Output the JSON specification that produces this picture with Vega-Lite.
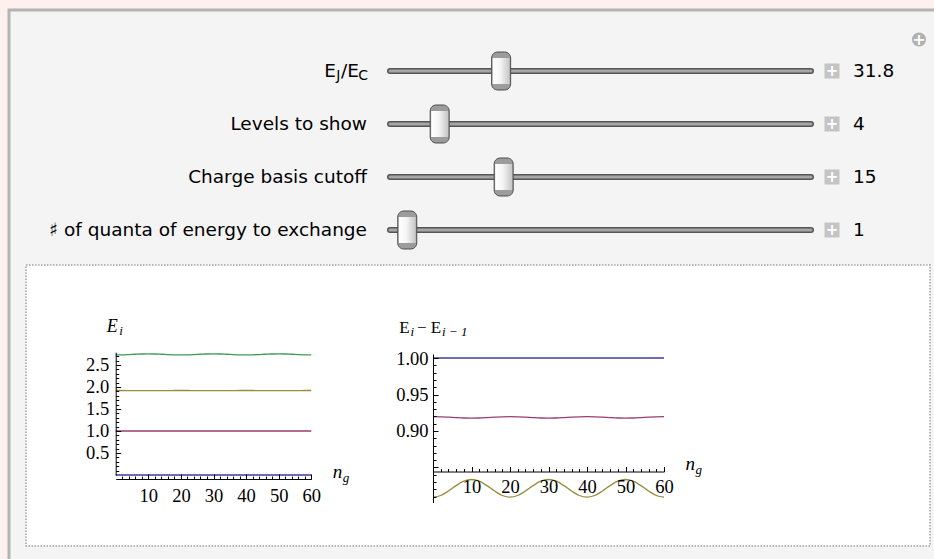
{
  "$schema": "https://vega.github.io/schema/vega-lite/v6.json",
  "background": "#fff0f0",
  "padding": {"left": 9, "top": 10, "right": -4, "bottom": -4},
  "autosize": {"type": "none"},
  "width": 929,
  "height": 553,
  "view": {"fill": "#f4f4f4", "stroke": "#b4b4b4", "strokeWidth": 3},
  "config": {"text": {"font": "DejaVu Sans", "color": "#000000"}},
  "datasets": {
    "sliders": [
      {"label": "E_J/E_C", "value": "31.8", "fraction": 0.264},
      {"label": "Levels to show", "value": "4", "fraction": 0.118},
      {"label": "Charge basis cutoff", "value": "15", "fraction": 0.27},
      {"label": "♯ of quanta of energy to exchange", "value": "1", "fraction": 0.041}
    ],
    "levels": [
      {"ng":0,"level":"E0","energy":0},{"ng":2,"level":"E0","energy":0},{"ng":4,"level":"E0","energy":0},{"ng":6,"level":"E0","energy":0},{"ng":8,"level":"E0","energy":0},{"ng":10,"level":"E0","energy":0},{"ng":12,"level":"E0","energy":0},{"ng":14,"level":"E0","energy":0},{"ng":16,"level":"E0","energy":0},{"ng":18,"level":"E0","energy":0},{"ng":20,"level":"E0","energy":0},{"ng":22,"level":"E0","energy":0},{"ng":24,"level":"E0","energy":0},{"ng":26,"level":"E0","energy":0},{"ng":28,"level":"E0","energy":0},{"ng":30,"level":"E0","energy":0},{"ng":32,"level":"E0","energy":0},{"ng":34,"level":"E0","energy":0},{"ng":36,"level":"E0","energy":0},{"ng":38,"level":"E0","energy":0},{"ng":40,"level":"E0","energy":0},{"ng":42,"level":"E0","energy":0},{"ng":44,"level":"E0","energy":0},{"ng":46,"level":"E0","energy":0},{"ng":48,"level":"E0","energy":0},{"ng":50,"level":"E0","energy":0},{"ng":52,"level":"E0","energy":0},{"ng":54,"level":"E0","energy":0},{"ng":56,"level":"E0","energy":0},{"ng":58,"level":"E0","energy":0},{"ng":60,"level":"E0","energy":0},
      {"ng":0,"level":"E1","energy":1},{"ng":2,"level":"E1","energy":1},{"ng":4,"level":"E1","energy":1},{"ng":6,"level":"E1","energy":1},{"ng":8,"level":"E1","energy":1},{"ng":10,"level":"E1","energy":1},{"ng":12,"level":"E1","energy":1},{"ng":14,"level":"E1","energy":1},{"ng":16,"level":"E1","energy":1},{"ng":18,"level":"E1","energy":1},{"ng":20,"level":"E1","energy":1},{"ng":22,"level":"E1","energy":1},{"ng":24,"level":"E1","energy":1},{"ng":26,"level":"E1","energy":1},{"ng":28,"level":"E1","energy":1},{"ng":30,"level":"E1","energy":1},{"ng":32,"level":"E1","energy":1},{"ng":34,"level":"E1","energy":1},{"ng":36,"level":"E1","energy":1},{"ng":38,"level":"E1","energy":1},{"ng":40,"level":"E1","energy":1},{"ng":42,"level":"E1","energy":1},{"ng":44,"level":"E1","energy":1},{"ng":46,"level":"E1","energy":1},{"ng":48,"level":"E1","energy":1},{"ng":50,"level":"E1","energy":1},{"ng":52,"level":"E1","energy":1},{"ng":54,"level":"E1","energy":1},{"ng":56,"level":"E1","energy":1},{"ng":58,"level":"E1","energy":1},{"ng":60,"level":"E1","energy":1},
      {"ng":0,"level":"E2","energy":1.9196},{"ng":2,"level":"E2","energy":1.9194},{"ng":4,"level":"E2","energy":1.9189},{"ng":6,"level":"E2","energy":1.9183},{"ng":8,"level":"E2","energy":1.9178},{"ng":10,"level":"E2","energy":1.9176},{"ng":12,"level":"E2","energy":1.9178},{"ng":14,"level":"E2","energy":1.9183},{"ng":16,"level":"E2","energy":1.9189},{"ng":18,"level":"E2","energy":1.9194},{"ng":20,"level":"E2","energy":1.9196},{"ng":22,"level":"E2","energy":1.9194},{"ng":24,"level":"E2","energy":1.9189},{"ng":26,"level":"E2","energy":1.9183},{"ng":28,"level":"E2","energy":1.9178},{"ng":30,"level":"E2","energy":1.9176},{"ng":32,"level":"E2","energy":1.9178},{"ng":34,"level":"E2","energy":1.9183},{"ng":36,"level":"E2","energy":1.9189},{"ng":38,"level":"E2","energy":1.9194},{"ng":40,"level":"E2","energy":1.9196},{"ng":42,"level":"E2","energy":1.9194},{"ng":44,"level":"E2","energy":1.9189},{"ng":46,"level":"E2","energy":1.9183},{"ng":48,"level":"E2","energy":1.9178},{"ng":50,"level":"E2","energy":1.9176},{"ng":52,"level":"E2","energy":1.9178},{"ng":54,"level":"E2","energy":1.9183},{"ng":56,"level":"E2","energy":1.9189},{"ng":58,"level":"E2","energy":1.9194},{"ng":60,"level":"E2","energy":1.9196},
      {"ng":0,"level":"E3","energy":2.7289},{"ng":2,"level":"E3","energy":2.7310},{"ng":4,"level":"E3","energy":2.7366},{"ng":6,"level":"E3","energy":2.7434},{"ng":8,"level":"E3","energy":2.7490},{"ng":10,"level":"E3","energy":2.7511},{"ng":12,"level":"E3","energy":2.7490},{"ng":14,"level":"E3","energy":2.7434},{"ng":16,"level":"E3","energy":2.7366},{"ng":18,"level":"E3","energy":2.7310},{"ng":20,"level":"E3","energy":2.7289},{"ng":22,"level":"E3","energy":2.7310},{"ng":24,"level":"E3","energy":2.7366},{"ng":26,"level":"E3","energy":2.7434},{"ng":28,"level":"E3","energy":2.7490},{"ng":30,"level":"E3","energy":2.7511},{"ng":32,"level":"E3","energy":2.7490},{"ng":34,"level":"E3","energy":2.7434},{"ng":36,"level":"E3","energy":2.7366},{"ng":38,"level":"E3","energy":2.7310},{"ng":40,"level":"E3","energy":2.7289},{"ng":42,"level":"E3","energy":2.7310},{"ng":44,"level":"E3","energy":2.7366},{"ng":46,"level":"E3","energy":2.7434},{"ng":48,"level":"E3","energy":2.7490},{"ng":50,"level":"E3","energy":2.7511},{"ng":52,"level":"E3","energy":2.7490},{"ng":54,"level":"E3","energy":2.7434},{"ng":56,"level":"E3","energy":2.7366},{"ng":58,"level":"E3","energy":2.7310},{"ng":60,"level":"E3","energy":2.7289}
    ],
    "diffs": [
      {"ng":0,"pair":"E1-E0","gap":1},{"ng":2,"pair":"E1-E0","gap":1},{"ng":4,"pair":"E1-E0","gap":1},{"ng":6,"pair":"E1-E0","gap":1},{"ng":8,"pair":"E1-E0","gap":1},{"ng":10,"pair":"E1-E0","gap":1},{"ng":12,"pair":"E1-E0","gap":1},{"ng":14,"pair":"E1-E0","gap":1},{"ng":16,"pair":"E1-E0","gap":1},{"ng":18,"pair":"E1-E0","gap":1},{"ng":20,"pair":"E1-E0","gap":1},{"ng":22,"pair":"E1-E0","gap":1},{"ng":24,"pair":"E1-E0","gap":1},{"ng":26,"pair":"E1-E0","gap":1},{"ng":28,"pair":"E1-E0","gap":1},{"ng":30,"pair":"E1-E0","gap":1},{"ng":32,"pair":"E1-E0","gap":1},{"ng":34,"pair":"E1-E0","gap":1},{"ng":36,"pair":"E1-E0","gap":1},{"ng":38,"pair":"E1-E0","gap":1},{"ng":40,"pair":"E1-E0","gap":1},{"ng":42,"pair":"E1-E0","gap":1},{"ng":44,"pair":"E1-E0","gap":1},{"ng":46,"pair":"E1-E0","gap":1},{"ng":48,"pair":"E1-E0","gap":1},{"ng":50,"pair":"E1-E0","gap":1},{"ng":52,"pair":"E1-E0","gap":1},{"ng":54,"pair":"E1-E0","gap":1},{"ng":56,"pair":"E1-E0","gap":1},{"ng":58,"pair":"E1-E0","gap":1},{"ng":60,"pair":"E1-E0","gap":1},
      {"ng":0,"pair":"E2-E1","gap":0.9196},{"ng":2,"pair":"E2-E1","gap":0.9194},{"ng":4,"pair":"E2-E1","gap":0.9189},{"ng":6,"pair":"E2-E1","gap":0.9183},{"ng":8,"pair":"E2-E1","gap":0.9178},{"ng":10,"pair":"E2-E1","gap":0.9176},{"ng":12,"pair":"E2-E1","gap":0.9178},{"ng":14,"pair":"E2-E1","gap":0.9183},{"ng":16,"pair":"E2-E1","gap":0.9189},{"ng":18,"pair":"E2-E1","gap":0.9194},{"ng":20,"pair":"E2-E1","gap":0.9196},{"ng":22,"pair":"E2-E1","gap":0.9194},{"ng":24,"pair":"E2-E1","gap":0.9189},{"ng":26,"pair":"E2-E1","gap":0.9183},{"ng":28,"pair":"E2-E1","gap":0.9178},{"ng":30,"pair":"E2-E1","gap":0.9176},{"ng":32,"pair":"E2-E1","gap":0.9178},{"ng":34,"pair":"E2-E1","gap":0.9183},{"ng":36,"pair":"E2-E1","gap":0.9189},{"ng":38,"pair":"E2-E1","gap":0.9194},{"ng":40,"pair":"E2-E1","gap":0.9196},{"ng":42,"pair":"E2-E1","gap":0.9194},{"ng":44,"pair":"E2-E1","gap":0.9189},{"ng":46,"pair":"E2-E1","gap":0.9183},{"ng":48,"pair":"E2-E1","gap":0.9178},{"ng":50,"pair":"E2-E1","gap":0.9176},{"ng":52,"pair":"E2-E1","gap":0.9178},{"ng":54,"pair":"E2-E1","gap":0.9183},{"ng":56,"pair":"E2-E1","gap":0.9189},{"ng":58,"pair":"E2-E1","gap":0.9194},{"ng":60,"pair":"E2-E1","gap":0.9196},
      {"ng":0,"pair":"E3-E2","gap":0.8093},{"ng":2,"pair":"E3-E2","gap":0.8116},{"ng":4,"pair":"E3-E2","gap":0.8177},{"ng":6,"pair":"E3-E2","gap":0.8251},{"ng":8,"pair":"E3-E2","gap":0.8312},{"ng":10,"pair":"E3-E2","gap":0.8335},{"ng":12,"pair":"E3-E2","gap":0.8312},{"ng":14,"pair":"E3-E2","gap":0.8251},{"ng":16,"pair":"E3-E2","gap":0.8177},{"ng":18,"pair":"E3-E2","gap":0.8116},{"ng":20,"pair":"E3-E2","gap":0.8093},{"ng":22,"pair":"E3-E2","gap":0.8116},{"ng":24,"pair":"E3-E2","gap":0.8177},{"ng":26,"pair":"E3-E2","gap":0.8251},{"ng":28,"pair":"E3-E2","gap":0.8312},{"ng":30,"pair":"E3-E2","gap":0.8335},{"ng":32,"pair":"E3-E2","gap":0.8312},{"ng":34,"pair":"E3-E2","gap":0.8251},{"ng":36,"pair":"E3-E2","gap":0.8177},{"ng":38,"pair":"E3-E2","gap":0.8116},{"ng":40,"pair":"E3-E2","gap":0.8093},{"ng":42,"pair":"E3-E2","gap":0.8116},{"ng":44,"pair":"E3-E2","gap":0.8177},{"ng":46,"pair":"E3-E2","gap":0.8251},{"ng":48,"pair":"E3-E2","gap":0.8312},{"ng":50,"pair":"E3-E2","gap":0.8335},{"ng":52,"pair":"E3-E2","gap":0.8312},{"ng":54,"pair":"E3-E2","gap":0.8251},{"ng":56,"pair":"E3-E2","gap":0.8177},{"ng":58,"pair":"E3-E2","gap":0.8116},{"ng":60,"pair":"E3-E2","gap":0.8093}
    ]
  },
  "resolve": {
    "scale": {"x": "independent", "y": "independent", "color": "independent"},
    "axis": {"x": "independent", "y": "independent"}
  },
  "layer": [
    {
      "data": {"values": [{"panel": "output"}]},
      "mark": {"type": "rect", "fill": "#ffffff", "stroke": "#a0a0a0", "strokeWidth": 1.5, "strokeDash": [1.5, 1.5]},
      "encoding": {
        "x": {"datum": 0, "type": "quantitative", "scale": {"domain": [0, 1], "range": [17, 921], "zero": false, "nice": false}, "axis": null},
        "x2": {"datum": 1},
        "y": {"datum": 0, "type": "quantitative", "scale": {"domain": [0, 1], "range": [255, 536], "zero": false, "nice": false}, "axis": null},
        "y2": {"datum": 1}
      }
    },
    {
      "data": {"name": "sliders"},
      "encoding": {
        "y": {"field": "label", "type": "nominal", "scale": {"type": "point", "domain": ["E_J/E_C", "Levels to show", "Charge basis cutoff", "♯ of quanta of energy to exchange"], "range": [61, 220], "padding": 0}, "axis": null}
      },
      "layer": [
        {
          "mark": {"type": "rule", "color": "#555555", "strokeWidth": 6, "strokeCap": "round"},
          "encoding": {"x": {"datum": 0, "type": "quantitative", "scale": {"domain": [0, 1], "range": [381, 802], "zero": false, "nice": false}, "axis": null}, "x2": {"datum": 1}}
        },
        {
          "mark": {"type": "rule", "color": "#a6a6a6", "strokeWidth": 3, "strokeCap": "round"},
          "encoding": {"x": {"datum": 0, "type": "quantitative", "scale": {"domain": [0, 1], "range": [381, 802], "zero": false, "nice": false}, "axis": null}, "x2": {"datum": 1}}
        },
        {
          "mark": {"type": "rect", "width": 19, "height": 38, "cornerRadius": 6, "fill": "#9c9c9c", "stroke": "#4d4d4d", "strokeWidth": 1},
          "encoding": {"x": {"field": "fraction", "type": "quantitative", "scale": {"domain": [0, 1], "range": [381, 802], "zero": false, "nice": false}, "axis": null}}
        },
        {
          "mark": {"type": "rect", "width": 17, "height": 26, "fill": {"gradient": "linear", "x1": 0, "y1": 0, "x2": 1, "y2": 0, "stops": [{"offset": 0, "color": "#ffffff"}, {"offset": 0.45, "color": "#f4f4f4"}, {"offset": 1, "color": "#c6c6c6"}]}},
          "encoding": {"x": {"field": "fraction", "type": "quantitative", "scale": {"domain": [0, 1], "range": [381, 802], "zero": false, "nice": false}, "axis": null}}
        },
        {
          "transform": [{"filter": "datum.label !== 'E_J/E_C'"}],
          "mark": {"type": "text", "align": "right", "baseline": "middle", "dx": -23, "fontSize": 18.5, "font": "DejaVu Sans"},
          "encoding": {"x": {"datum": 0, "type": "quantitative", "scale": {"domain": [0, 1], "range": [381, 802], "zero": false, "nice": false}, "axis": null}, "text": {"field": "label"}}
        },
        {
          "transform": [{"filter": "datum.label === 'E_J/E_C'"}],
          "mark": {"type": "text", "text": "E", "align": "right", "baseline": "middle", "dx": -54, "fontSize": 18.5, "font": "DejaVu Sans"},
          "encoding": {"x": {"datum": 0, "type": "quantitative", "scale": {"domain": [0, 1], "range": [381, 802], "zero": false, "nice": false}, "axis": null}}
        },
        {
          "transform": [{"filter": "datum.label === 'E_J/E_C'"}],
          "mark": {"type": "text", "text": "J", "align": "right", "baseline": "middle", "dx": -49.5, "dy": 5, "fontSize": 14, "font": "DejaVu Sans"},
          "encoding": {"x": {"datum": 0, "type": "quantitative", "scale": {"domain": [0, 1], "range": [381, 802], "zero": false, "nice": false}, "axis": null}}
        },
        {
          "transform": [{"filter": "datum.label === 'E_J/E_C'"}],
          "mark": {"type": "text", "text": "/E", "align": "right", "baseline": "middle", "dx": -31, "fontSize": 18.5, "font": "DejaVu Sans"},
          "encoding": {"x": {"datum": 0, "type": "quantitative", "scale": {"domain": [0, 1], "range": [381, 802], "zero": false, "nice": false}, "axis": null}}
        },
        {
          "transform": [{"filter": "datum.label === 'E_J/E_C'"}],
          "mark": {"type": "text", "text": "C", "align": "right", "baseline": "middle", "dx": -22, "dy": 5, "fontSize": 14, "font": "DejaVu Sans"},
          "encoding": {"x": {"datum": 0, "type": "quantitative", "scale": {"domain": [0, 1], "range": [381, 802], "zero": false, "nice": false}, "axis": null}}
        },
        {
          "mark": {"type": "square", "size": 225, "color": "#c4c4c4", "opacity": 1, "filled": true, "xOffset": 21},
          "encoding": {"x": {"datum": 1, "type": "quantitative", "scale": {"domain": [0, 1], "range": [381, 802], "zero": false, "nice": false}, "axis": null}}
        },
        {
          "mark": {"type": "text", "text": "+", "color": "#ffffff", "fontSize": 15, "fontWeight": "bold", "align": "center", "baseline": "middle", "xOffset": 21},
          "encoding": {"x": {"datum": 1, "type": "quantitative", "scale": {"domain": [0, 1], "range": [381, 802], "zero": false, "nice": false}, "axis": null}}
        },
        {
          "mark": {"type": "text", "align": "left", "baseline": "middle", "dx": 42, "fontSize": 18.5, "font": "DejaVu Sans"},
          "encoding": {"x": {"datum": 1, "type": "quantitative", "scale": {"domain": [0, 1], "range": [381, 802], "zero": false, "nice": false}, "axis": null}, "text": {"field": "value"}}
        },
        {
          "transform": [{"filter": "datum.label === 'E_J/E_C'"}],
          "mark": {"type": "circle", "size": 200, "color": "#b0b0b0", "opacity": 1, "xOffset": 108, "yOffset": -31.5},
          "encoding": {"x": {"datum": 1, "type": "quantitative", "scale": {"domain": [0, 1], "range": [381, 802], "zero": false, "nice": false}, "axis": null}}
        },
        {
          "transform": [{"filter": "datum.label === 'E_J/E_C'"}],
          "mark": {"type": "text", "text": "+", "color": "#ffffff", "fontSize": 16, "fontWeight": "bold", "align": "center", "baseline": "middle", "xOffset": 108, "yOffset": -31.5},
          "encoding": {"x": {"datum": 1, "type": "quantitative", "scale": {"domain": [0, 1], "range": [381, 802], "zero": false, "nice": false}, "axis": null}}
        }
      ]
    },
    {
      "data": {"name": "levels"},
      "mark": {"type": "line", "strokeWidth": 1.3, "interpolate": "monotone"},
      "encoding": {
        "x": {"field": "ng", "type": "quantitative", "scale": {"domain": [0, 60], "range": [106.7, 302.3], "zero": false, "nice": false},
              "axis": {"orient": "bottom", "offset": -84, "values": [10, 20, 30, 40, 50, 60], "ticks": false, "labelPadding": 7, "title": null, "grid": false, "zindex": 1, "domainColor": "#000000", "labelColor": "#000000", "labelFont": "Liberation Serif", "labelFontSize": 18.5, "labelFlush": false, "labelOverlap": false}},
        "y": {"field": "energy", "type": "quantitative", "scale": {"domain": [0, 2.79], "range": [465, 342.2], "zero": false, "nice": false},
              "axis": {"orient": "left", "offset": -106.7, "values": [0.5, 1, 1.5, 2, 2.5], "format": ".1f", "ticks": false, "labelPadding": 7, "title": null, "grid": false, "zindex": 1, "domainColor": "#000000", "labelColor": "#000000", "labelFont": "Liberation Serif", "labelFontSize": 18.5, "labelFlush": false, "labelOverlap": false}},
        "color": {"field": "level", "type": "nominal", "scale": {"domain": ["E0", "E1", "E2", "E3"], "range": ["#3d3d99", "#993d71", "#998c3d", "#3d9954"]}, "legend": null}
      }
    },
    {
      "data": {"values": [{"text": "E"}]},
      "mark": {"type": "text", "font": "Liberation Serif", "fontStyle": "italic", "fontSize": 18, "align": "left", "baseline": "alphabetic", "dx": -9, "dy": -20},
      "encoding": {
        "x": {"datum": 0, "type": "quantitative", "scale": {"domain": [0, 60], "range": [106.7, 302.3], "zero": false, "nice": false},
              "axis": {"orient": "bottom", "offset": -84, "values": [10, 20, 30, 40, 50, 60], "tickSize": -5, "tickColor": "#000000", "labels": false, "domain": false, "title": null, "grid": false, "zindex": 1}},
        "y": {"datum": 2.79, "type": "quantitative", "scale": {"domain": [0, 2.79], "range": [465, 342.2], "zero": false, "nice": false},
              "axis": {"orient": "left", "offset": -106.7, "values": [0.5, 1, 1.5, 2, 2.5], "tickSize": -5, "tickColor": "#000000", "labels": false, "domain": false, "title": null, "grid": false, "zindex": 1}},
        "text": {"field": "text"}
      }
    },
    {
      "data": {"values": [{"text": "i"}]},
      "mark": {"type": "text", "font": "Liberation Serif", "fontStyle": "italic", "fontSize": 13, "align": "left", "baseline": "alphabetic", "dx": 3.5, "dy": -17.5},
      "encoding": {
        "x": {"datum": 0, "type": "quantitative", "scale": {"domain": [0, 60], "range": [106.7, 302.3], "zero": false, "nice": false},
              "axis": {"orient": "bottom", "offset": -84, "values": [2, 4, 6, 8, 12, 14, 16, 18, 22, 24, 26, 28, 32, 34, 36, 38, 42, 44, 46, 48, 52, 54, 56, 58], "tickSize": -3, "tickColor": "#000000", "labels": false, "domain": false, "title": null, "grid": false, "zindex": 1}},
        "y": {"datum": 2.79, "type": "quantitative", "scale": {"domain": [0, 2.79], "range": [465, 342.2], "zero": false, "nice": false},
              "axis": {"orient": "left", "offset": -106.7, "values": [0.1, 0.2, 0.3, 0.4, 0.6, 0.7, 0.8, 0.9, 1.1, 1.2, 1.3, 1.4, 1.6, 1.7, 1.8, 1.9, 2.1, 2.2, 2.3, 2.4, 2.6, 2.7], "tickSize": -3, "tickColor": "#000000", "labels": false, "domain": false, "title": null, "grid": false, "zindex": 1}},
        "text": {"field": "text"}
      }
    },
    {
      "data": {"values": [{"text": "n"}]},
      "mark": {"type": "text", "font": "Liberation Serif", "fontStyle": "italic", "fontSize": 19, "align": "left", "baseline": "alphabetic", "dx": 21.5, "dy": 3},
      "encoding": {
        "x": {"datum": 60, "type": "quantitative", "scale": {"domain": [0, 60], "range": [106.7, 302.3], "zero": false, "nice": false}, "axis": null},
        "y": {"datum": 0, "type": "quantitative", "scale": {"domain": [0, 2.79], "range": [465, 342.2], "zero": false, "nice": false}, "axis": null},
        "text": {"field": "text"}
      }
    },
    {
      "data": {"values": [{"text": "g"}]},
      "mark": {"type": "text", "font": "Liberation Serif", "fontStyle": "italic", "fontSize": 13, "align": "left", "baseline": "alphabetic", "dx": 31.5, "dy": 7},
      "encoding": {
        "x": {"datum": 60, "type": "quantitative", "scale": {"domain": [0, 60], "range": [106.7, 302.3], "zero": false, "nice": false}, "axis": null},
        "y": {"datum": 0, "type": "quantitative", "scale": {"domain": [0, 2.79], "range": [465, 342.2], "zero": false, "nice": false}, "axis": null},
        "text": {"field": "text"}
      }
    },
    {
      "data": {"name": "diffs"},
      "mark": {"type": "line", "strokeWidth": 1.3, "interpolate": "monotone"},
      "encoding": {
        "x": {"field": "ng", "type": "quantitative", "scale": {"domain": [0, 60], "range": [424, 655], "zero": false, "nice": false},
              "axis": {"orient": "bottom", "offset": -91.5, "values": [10, 20, 30, 40, 50, 60], "ticks": false, "labelPadding": 5.5, "title": null, "grid": false, "zindex": 1, "domainColor": "#000000", "labelColor": "#000000", "labelFont": "Liberation Serif", "labelFontSize": 18.5, "labelFlush": false, "labelOverlap": false}},
        "y": {"field": "gap", "type": "quantitative", "scale": {"domain": [0.802, 1.0055], "range": [492.5, 344], "zero": false, "nice": false},
              "axis": {"orient": "left", "offset": -424, "values": [0.9, 0.95, 1.0], "format": ".2f", "ticks": false, "labelPadding": 5, "title": null, "grid": false, "zindex": 1, "domainColor": "#000000", "labelColor": "#000000", "labelFont": "Liberation Serif", "labelFontSize": 18.5, "labelFlush": false, "labelOverlap": false}},
        "color": {"field": "pair", "type": "nominal", "scale": {"domain": ["E1-E0", "E2-E1", "E3-E2"], "range": ["#3d3d99", "#993d71", "#998c3d"]}, "legend": null}
      }
    },
    {
      "data": {"values": [{"text": "E"}]},
      "mark": {"type": "text", "font": "Liberation Serif", "fontSize": 17, "align": "left", "baseline": "alphabetic", "dx": -33.7, "dy": -21.3},
      "encoding": {
        "x": {"datum": 0, "type": "quantitative", "scale": {"domain": [0, 60], "range": [424, 655], "zero": false, "nice": false},
              "axis": {"orient": "bottom", "offset": -91.5, "values": [10, 20, 30, 40, 50, 60], "tickSize": -5, "tickColor": "#000000", "labels": false, "domain": false, "title": null, "grid": false, "zindex": 1}},
        "y": {"datum": 1.0055, "type": "quantitative", "scale": {"domain": [0.802, 1.0055], "range": [492.5, 344], "zero": false, "nice": false},
              "axis": {"orient": "left", "offset": -424, "values": [0.85, 0.9, 0.95, 1.0], "tickSize": -5, "tickColor": "#000000", "labels": false, "domain": false, "title": null, "grid": false, "zindex": 1}},
        "text": {"field": "text"}
      }
    },
    {
      "data": {"values": [{"text": "i"}]},
      "mark": {"type": "text", "font": "Liberation Serif", "fontStyle": "italic", "fontSize": 13, "align": "left", "baseline": "alphabetic", "dx": -22.5, "dy": -18.5},
      "encoding": {
        "x": {"datum": 0, "type": "quantitative", "scale": {"domain": [0, 60], "range": [424, 655], "zero": false, "nice": false},
              "axis": {"orient": "bottom", "offset": -91.5, "values": [2, 4, 6, 8, 12, 14, 16, 18, 22, 24, 26, 28, 32, 34, 36, 38, 42, 44, 46, 48, 52, 54, 56, 58], "tickSize": -3, "tickColor": "#000000", "labels": false, "domain": false, "title": null, "grid": false, "zindex": 1}},
        "y": {"datum": 1.0055, "type": "quantitative", "scale": {"domain": [0.802, 1.0055], "range": [492.5, 344], "zero": false, "nice": false},
              "axis": {"orient": "left", "offset": -424, "values": [0.81, 0.82, 0.83, 0.84, 0.86, 0.87, 0.88, 0.89, 0.91, 0.92, 0.93, 0.94, 0.96, 0.97, 0.98, 0.99], "tickSize": -3, "tickColor": "#000000", "labels": false, "domain": false, "title": null, "grid": false, "zindex": 1}},
        "text": {"field": "text"}
      }
    },
    {
      "data": {"values": [{"text": "− E"}]},
      "mark": {"type": "text", "font": "Liberation Serif", "fontSize": 17, "align": "left", "baseline": "alphabetic", "dx": -16, "dy": -21.3},
      "encoding": {
        "x": {"datum": 0, "type": "quantitative", "scale": {"domain": [0, 60], "range": [424, 655], "zero": false, "nice": false}, "axis": null},
        "y": {"datum": 1.0055, "type": "quantitative", "scale": {"domain": [0.802, 1.0055], "range": [492.5, 344], "zero": false, "nice": false}, "axis": null},
        "text": {"field": "text"}
      }
    },
    {
      "data": {"values": [{"text": "i − 1"}]},
      "mark": {"type": "text", "font": "Liberation Serif", "fontStyle": "italic", "fontSize": 13, "align": "left", "baseline": "alphabetic", "dx": 9, "dy": -18.5},
      "encoding": {
        "x": {"datum": 0, "type": "quantitative", "scale": {"domain": [0, 60], "range": [424, 655], "zero": false, "nice": false}, "axis": null},
        "y": {"datum": 1.0055, "type": "quantitative", "scale": {"domain": [0.802, 1.0055], "range": [492.5, 344], "zero": false, "nice": false}, "axis": null},
        "text": {"field": "text"}
      }
    },
    {
      "data": {"values": [{"text": "n"}]},
      "mark": {"type": "text", "font": "Liberation Serif", "fontStyle": "italic", "fontSize": 19, "align": "left", "baseline": "alphabetic", "dx": 21.5, "dy": 3},
      "encoding": {
        "x": {"datum": 60, "type": "quantitative", "scale": {"domain": [0, 60], "range": [424, 655], "zero": false, "nice": false}, "axis": null},
        "y": {"datum": 0.85, "type": "quantitative", "scale": {"domain": [0.802, 1.0055], "range": [492.5, 344], "zero": false, "nice": false}, "axis": null},
        "text": {"field": "text"}
      }
    },
    {
      "data": {"values": [{"text": "g"}]},
      "mark": {"type": "text", "font": "Liberation Serif", "fontStyle": "italic", "fontSize": 13, "align": "left", "baseline": "alphabetic", "dx": 31.5, "dy": 7},
      "encoding": {
        "x": {"datum": 60, "type": "quantitative", "scale": {"domain": [0, 60], "range": [424, 655], "zero": false, "nice": false}, "axis": null},
        "y": {"datum": 0.85, "type": "quantitative", "scale": {"domain": [0.802, 1.0055], "range": [492.5, 344], "zero": false, "nice": false}, "axis": null},
        "text": {"field": "text"}
      }
    }
  ]
}
